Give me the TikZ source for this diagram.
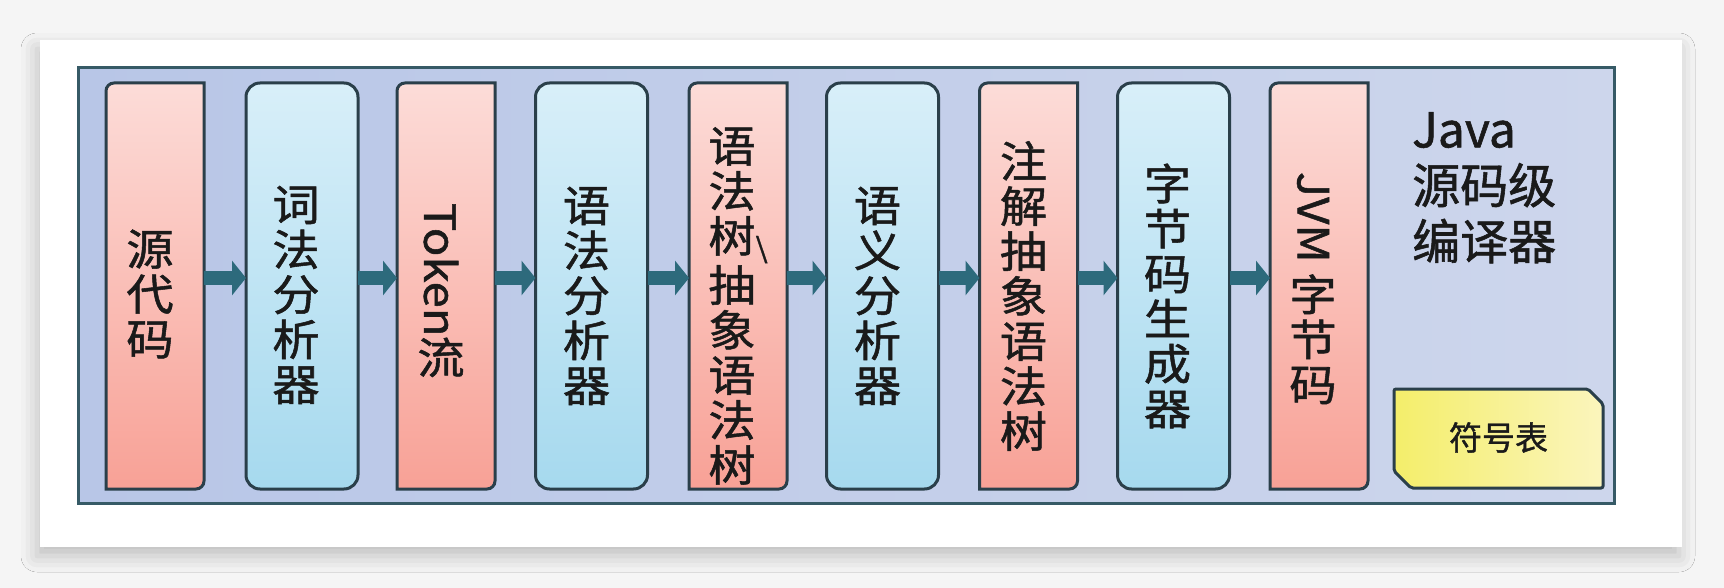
\documentclass[tikz,border=0pt]{standalone}
\usepackage{fontspec}
\usepackage{graphicx}
\usetikzlibrary{arrows.meta,shadows.blur,calc}
\newfontfamily\cjk[FakeStretch=1.1,FakeBold=1.2]{Noto Sans CJK SC}
\newfontfamily\cjkt[FakeBold=1.2]{Noto Sans CJK SC}
\definecolor{bgc}{HTML}{F5F5F5}
\definecolor{framefillL}{HTML}{B8C6E7}
\definecolor{framefillR}{HTML}{CDD6EC}
\definecolor{frameline}{HTML}{365A66}
\definecolor{boxline}{HTML}{2A3F4A}
\definecolor{pinkT}{HTML}{FCDCD8}
\definecolor{pinkB}{HTML}{F8A196}
\definecolor{blueT}{HTML}{D8EFF9}
\definecolor{blueB}{HTML}{A6D9EE}
\definecolor{arrowc}{HTML}{2D6A7C}
\definecolor{yelL}{HTML}{F4EE6A}
\definecolor{yelR}{HTML}{FBF5BD}
\definecolor{txt}{HTML}{1A1A1A}
\newcommand\pinkshape[1]{%
  \path[pinkbox] ([yshift=-8pt]#1.north west) arc[start angle=180,end angle=90,radius=8pt]
    -- (#1.north east) -- ([yshift=8pt]#1.south east)
    arc[start angle=0,end angle=-90,radius=8pt] -- (#1.south west) -- cycle;}
\begin{document}
\begin{tikzpicture}[x=1pt,y=1pt,
  card/.style={rectangle,fill=white,inner sep=0,outer sep=0,minimum width=1642,minimum height=507,
    blur shadow={shadow xshift=-3pt,shadow yshift=-9pt,shadow blur radius=16pt,shadow opacity=22}},
  frame/.style={rectangle,draw=frameline,line width=3pt,left color=framefillL,right color=framefillR,
    inner sep=0,outer sep=0,minimum width=1536,minimum height=435},
  pinkanchor/.style={rectangle,inner sep=0,outer sep=0,minimum width=98,minimum height=406},
  pinkbox/.style={draw=boxline,line width=3pt,top color=pinkT,bottom color=pinkB},
  bluebox/.style={rectangle,draw=boxline,line width=3pt,rounded corners=14pt,top color=blueT,bottom color=blueB,
    inner sep=0,outer sep=0,minimum width=112,minimum height=406},
  lbl/.style={inner sep=0,align=center,text=txt,font=\cjk\fontsize{43}{45}\selectfont},
  flow/.style={draw=arrowc,line width=14pt,-{Triangle[length=14pt,width=34pt]}},
  symbox/.style={draw=boxline,line width=3pt,left color=yelL,right color=yelR,rounded corners=2pt}
]
\useasboundingbox (0,0) rectangle (1724,-588);
\fill[bgc] (0,0) rectangle (1724,-588);
\node[card] (card) at (861,-293.5) {};
\node[frame] (frame) at (846,-285.5) {};
% boxes
\node[pinkanchor] (b1) at (155,-286) {};
\pinkshape{b1}
\node[bluebox] (b2) at (302,-286) {};
\node[pinkanchor] (b3) at (446,-286) {};
\pinkshape{b3}
\node[bluebox] (b4) at (591.5,-286) {};
\node[pinkanchor] (b5) at (738,-286) {};
\pinkshape{b5}
\node[bluebox] (b6) at (882.5,-286) {};
\node[pinkanchor] (b7) at (1028.5,-286) {};
\pinkshape{b7}
\node[bluebox] (b8) at (1173.5,-286) {};
\node[pinkanchor] (b9) at (1319,-286) {};
\pinkshape{b9}
% labels
\node[lbl] (t1) at ([xshift=-5pt,yshift=-8pt]b1.center) {源\\代\\码};
\node[lbl] (t2) at ([xshift=-6pt,yshift=-9pt]b2.center) {词\\法\\分\\析\\器};
\node[lbl] (t3) at ([xshift=-5pt,yshift=-4pt]b3.center) {\rotatebox[origin=c]{-90}{Token}\\流};
\node[lbl] (t4) at ([xshift=-5pt,yshift=-10pt]b4.center) {语\\法\\分\\析\\器};
\node[lbl] (t5) at ([xshift=-6pt,yshift=-20pt]b5.center) {语\\法\\树\rlap{\raisebox{-6pt}{\fontsize{28}{28}\selectfont\reflectbox{/}}}\\[1pt]抽\\象\\语\\法\\树};
\node[lbl] (t6) at ([xshift=-5pt,yshift=-10pt]b6.center) {语\\义\\分\\析\\器};
\node[lbl] (t7) at ([xshift=-5pt,yshift=-10pt]b7.center) {注\\解\\抽\\象\\语\\法\\树};
\node[lbl] (t8) at ([xshift=-6pt,yshift=-10pt]b8.center) {字\\节\\码\\生\\成\\器};
\node[lbl] (t9) at ([xshift=-6pt,yshift=-2pt]b9.center) {\rotatebox[origin=c]{-90}{JVM\ }\\字\\节\\码};
% arrows
\draw[flow] ([yshift=8pt]b1.east) -- ([yshift=8pt]b2.west);
\draw[flow] ([yshift=8pt]b2.east) -- ([yshift=8pt]b3.west);
\draw[flow] ([yshift=8pt]b3.east) -- ([yshift=8pt]b4.west);
\draw[flow] ([yshift=8pt]b4.east) -- ([yshift=8pt]b5.west);
\draw[flow] ([yshift=8pt]b5.east) -- ([yshift=8pt]b6.west);
\draw[flow] ([yshift=8pt]b6.east) -- ([yshift=8pt]b7.west);
\draw[flow] ([yshift=8pt]b7.east) -- ([yshift=8pt]b8.west);
\draw[flow] ([yshift=8pt]b8.east) -- ([yshift=8pt]b9.west);
% title
\node[inner sep=0,anchor=north west,align=left,text=txt,font=\cjkt\fontsize{48}{56}\selectfont] (title) at (1412,-112) {Java\\源码级\\编译器};
% symbol table
\node[rectangle,inner sep=0,outer sep=0,minimum width=209,minimum height=99] (sym) at (1498.5,-438.5) {};
\path[symbox] (sym.north west) -- ([xshift=-15pt]sym.north east) -- ([yshift=-15pt]sym.north east)
  -- (sym.south east) -- ([xshift=17pt]sym.south west) -- ([yshift=17pt]sym.south west) -- cycle;
\node[inner sep=0,text=txt,font=\cjkt\fontsize{33}{33}\selectfont] (symt) at ([yshift=1pt]sym.center) {符号表};
\end{tikzpicture}
\end{document}
